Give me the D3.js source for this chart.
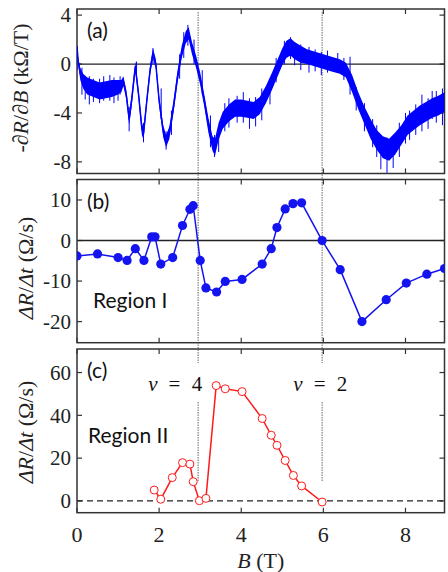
<!DOCTYPE html>
<html><head><meta charset="utf-8">
<script src="https://cdn.jsdelivr.net/npm/d3@7"></script>
<style>body{margin:0;background:#fff}svg{display:block}</style>
</head><body>
<script>
// ---------- data ----------
const xTicks = [0, 2, 4, 6, 8];
const yTicksA = [4, 0, -4, -8];
const yTicksB = [10, 0, -10, -20];
const yTicksC = [0, 20, 40, 60];

// panel (a): -dR/dB, center of noisy trace, noise half-width
const bA = [0.00,0.03,0.08,0.15,0.25,0.40,0.55,0.70,0.85,1.00,1.08,1.13,1.20,1.27,1.33,1.42,1.50,1.58,1.62,1.70,1.78,1.85,1.92,2.00,2.10,2.17,2.25,2.35,2.45,2.55,2.65,2.72,2.80,2.90,3.00,3.10,3.20,3.30,3.36,3.45,3.55,3.70,3.85,4.00,4.15,4.30,4.45,4.60,4.75,4.90,5.00,5.10,5.20,5.30,5.45,5.60,5.80,6.00,6.20,6.40,6.55,6.70,6.85,7.00,7.15,7.30,7.45,7.60,7.75,7.90,8.05,8.20,8.35,8.50,8.65,8.80,8.95];
const aMid = [1.4,0.2,-0.8,-1.4,-1.8,-2.0,-2.2,-2.1,-2.0,-1.9,-1.8,-1.4,-2.5,-4.5,-3.0,-0.2,-2.5,-5.3,-5.7,-3.0,-0.5,0.9,0.0,-3.0,-5.5,-6.3,-5.6,-3.5,-1.0,1.0,2.2,2.5,1.3,0.2,-1.2,-3.0,-5.0,-6.5,-6.8,-5.5,-4.6,-4.0,-3.6,-3.6,-3.7,-3.8,-3.4,-2.5,-1.4,-0.2,0.6,1.2,1.4,1.1,0.8,0.6,0.4,0.2,0.0,-0.2,-0.5,-1.6,-3.0,-4.2,-5.3,-6.2,-6.8,-7.0,-6.5,-5.8,-5.0,-4.6,-4.2,-3.9,-3.6,-3.4,-3.1];
const aNoise = [0.2,0.3,0.5,0.6,0.7,0.7,0.7,0.7,0.7,0.6,0.5,0.4,0.4,0.5,0.5,0.4,0.4,0.5,0.5,0.4,0.4,0.4,0.4,0.4,0.5,0.5,0.5,0.5,0.5,0.5,0.5,0.5,0.5,0.5,0.5,0.5,0.6,0.6,0.7,0.7,0.7,0.7,0.7,0.7,0.7,0.7,0.7,0.7,0.7,0.7,0.7,0.7,0.7,0.7,0.7,0.6,0.6,0.6,0.6,0.6,0.6,0.7,0.7,0.7,0.8,0.8,0.9,0.9,0.9,0.8,0.8,0.8,0.8,0.8,0.8,0.8,0.8];
// noise spikes of trace (a)
const spikeB  = [0.00,0.12,0.20,0.30,0.40,0.55,0.65,0.80,0.90,1.00,1.05,1.27,1.45,1.62,1.85,2.05,2.17,2.30,2.50,2.60,2.70,2.85,3.05,3.25,3.35,3.45,3.60,3.70,3.90,4.05,4.20,4.35,4.50,4.70,4.85,5.05,5.20,5.30,5.45,5.65,5.80,5.95,6.10,6.35,6.50,6.65,6.80,7.00,7.20,7.30,7.40,7.55,7.70,7.85,8.00,8.10,8.25,8.40,8.55,8.65,8.75,8.90];
const spikeLo = [-0.5,-2.5,-2.9,-3.3,-3.1,-3.2,-3.0,-3.0,-3.2,-3.0,-2.5,-5.5,-1.0,-6.4,0.0,-4.5,-7.0,-5.8,-1.2,0.5,1.5,0.0,-2.5,-6.8,-7.6,-7.2,-5.5,-5.2,-4.8,-4.8,-5.3,-5.1,-4.6,-3.3,-1.5,0.0,0.4,-0.1,-0.5,-0.7,-0.6,-0.9,-0.7,-0.5,-1.3,-2.5,-3.8,-5.5,-6.8,-7.6,-8.6,-8.9,-8.5,-7.6,-6.5,-6.2,-5.8,-5.5,-5.3,-4.5,-4.8,-5.0];
const spikeHi = [1.5,-0.3,-1.0,-1.0,-1.2,-1.2,-1.0,-0.9,-1.1,-1.3,-1.0,-3.5,0.2,-4.8,1.3,-2.0,-5.5,-3.8,0.8,2.6,3.2,2.0,-0.5,-4.2,-5.8,-5.0,-3.2,-2.8,-2.6,-2.3,-2.8,-2.7,-2.0,-1.3,0.5,1.9,2.2,1.8,1.6,1.4,1.2,1.0,1.1,0.9,0.5,0.6,-1.9,-3.2,-4.5,-5.0,-5.8,-6.0,-6.0,-4.8,-4.0,-3.8,-3.3,-2.5,-2.8,-2.2,-2.2,-2.0];

// panel (b): Region I
const bI = [0.00,0.50,1.00,1.22,1.42,1.63,1.82,1.90,2.04,2.33,2.57,2.75,2.83,3.00,3.14,3.40,3.61,4.02,4.51,4.73,4.87,5.07,5.26,5.47,5.97,6.41,6.94,7.53,8.02,8.52,8.95];
const rateI = [-3.8,-3.3,-4.2,-4.9,-2.0,-4.9,0.9,0.9,-5.8,-4.2,3.7,7.7,8.6,-4.9,-11.7,-12.7,-10.1,-9.6,-5.8,-2.0,3.2,7.8,9.1,9.3,0.0,-7.2,-20.0,-14.6,-10.5,-8.3,-6.9];

// panel (c): Region II
const bII = [1.88,2.04,2.32,2.57,2.75,2.83,2.98,3.14,3.39,3.61,4.02,4.51,4.73,4.87,5.07,5.27,5.47,5.97];
const rateII = [5.1,0.8,10.9,17.9,17.2,9.0,0.1,1.2,53.9,52.4,51.1,38.5,30.7,26.0,18.9,11.9,7.0,-0.5];

const nuB = [2.95, 5.97];
const nuText = ["4", "2"];

// ---------- layout ----------
const W = 448, H = 572;
const L = 77, R = 444.5;
const svg = d3.select("body").append("svg").attr("width", W).attr("height", H);
const x = d3.scaleLinear().domain([0, 8.95]).range([L, R]);

const panels = [
  {id:"a", top:9,     bot:173.5, dom:[-8.95, 4.5],   ticks:yTicksA, label:"(a)"},
  {id:"b", top:179.5, bot:342.7, dom:[-25.2, 15.05], ticks:yTicksB, label:"(b)"},
  {id:"c", top:349,   bot:512.7, dom:[-5.5, 71],     ticks:yTicksC, label:"(c)"}
];
panels.forEach(p => { p.y = d3.scaleLinear().domain(p.dom).range([p.bot, p.top]); });

const serif = "'Liberation Serif','Times New Roman',serif";
const sans = "Lato,'Open Sans',sans-serif";
const frameCol = "#333";

// clip paths
const defs = svg.append("defs");
panels.forEach(p => {
  defs.append("clipPath").attr("id", "clip" + p.id).append("rect")
    .attr("x", L).attr("y", p.top).attr("width", R - L).attr("height", p.bot - p.top);
});

// vertical nu lines (through a and b)
const vg = svg.append("g");
nuB.forEach(b => {
  vg.append("line").attr("x1", x(b)).attr("x2", x(b)).attr("y1", 12).attr("y2", 363)
    .attr("stroke", "#444").attr("stroke-width", 0.8).attr("stroke-dasharray", "1.5,1");
});

panels.forEach(p => {
  const g = svg.append("g");
  const tl = 5;
  xTicks.forEach(t => {
    g.append("line").attr("x1", x(t)).attr("x2", x(t)).attr("y1", p.bot).attr("y2", p.bot - tl).attr("stroke", frameCol).attr("stroke-width", 1.2);
    g.append("line").attr("x1", x(t)).attr("x2", x(t)).attr("y1", p.top).attr("y2", p.top + tl).attr("stroke", frameCol).attr("stroke-width", 1.2);
  });
  p.ticks.forEach(t => {
    g.append("line").attr("x1", L).attr("x2", L + tl).attr("y1", p.y(t)).attr("y2", p.y(t)).attr("stroke", frameCol).attr("stroke-width", 1.2);
    g.append("line").attr("x1", R).attr("x2", R - tl).attr("y1", p.y(t)).attr("y2", p.y(t)).attr("stroke", frameCol).attr("stroke-width", 1.2);
    g.append("text").attr("x", 71).attr("y", p.y(t)).attr("dy", "0.35em")
      .attr("text-anchor", "end").attr("font-family", serif).attr("font-size", 21).attr("fill", "#222")
      .text(String(t));
  });
  const zl = g.append("line").attr("x1", L).attr("x2", R).attr("y1", p.y(0)).attr("y2", p.y(0))
    .attr("stroke", "#222").attr("stroke-width", 1.3);
  if (p.id === "c") zl.attr("stroke-dasharray", "6,4");
  g.append("rect").attr("x", L).attr("y", p.top).attr("width", R - L).attr("height", p.bot - p.top)
    .attr("fill", "none").attr("stroke", frameCol).attr("stroke-width", 1.5);
  g.append("text").attr("x", 87).attr("y", p.top + 29).attr("font-family", sans).attr("font-size", 21).attr("fill", "#111").text(p.label);
});

// ---------- panel a ----------
const pa = panels[0];
const ga = svg.append("g").attr("clip-path", "url(#clipa)");
const aData = bA.map((b, i) => ({b, m: aMid[i], n: aNoise[i]}));
ga.append("path").datum(aData)
  .attr("d", d3.area().x(d => x(d.b)).y0(d => pa.y(d.m - d.n)).y1(d => pa.y(d.m + d.n)))
  .attr("fill", "#0000ff");
ga.append("path").datum(aData)
  .attr("d", d3.line().x(d => x(d.b)).y(d => pa.y(d.m)))
  .attr("fill", "none").attr("stroke", "#0000ff").attr("stroke-width", 1.5);
spikeB.forEach((b, i) => {
  ga.append("line").attr("x1", x(b)).attr("x2", x(b)).attr("y1", pa.y(spikeLo[i])).attr("y2", pa.y(spikeHi[i]))
    .attr("stroke", "#0000ff").attr("stroke-width", 1);
});

// ---------- panel b ----------
const pb = panels[1];
const gb = svg.append("g").attr("clip-path", "url(#clipb)");
const bData = bI.map((b, i) => ({b, v: rateI[i]}));
gb.append("path").datum(bData)
  .attr("d", d3.line().x(d => x(d.b)).y(d => pb.y(d.v)))
  .attr("fill", "none").attr("stroke", "#1414f0").attr("stroke-width", 1.5);
gb.selectAll("circle").data(bData).enter().append("circle")
  .attr("cx", d => x(d.b)).attr("cy", d => pb.y(d.v)).attr("r", 4.6).attr("fill", "#1414f0");
svg.append("text").attr("x", 93).attr("y", 308).attr("font-family", sans).attr("font-size", 21).attr("fill", "#111").text("Region I");

// ---------- panel c ----------
const pc = panels[2];
const gc = svg.append("g").attr("clip-path", "url(#clipc)");
const cData = bII.map((b, i) => ({b, v: rateII[i]}));
gc.append("path").datum(cData)
  .attr("d", d3.line().x(d => x(d.b)).y(d => pc.y(d.v)))
  .attr("fill", "none").attr("stroke", "#ff1a1a").attr("stroke-width", 1.5);
gc.selectAll("circle").data(cData).enter().append("circle")
  .attr("cx", d => x(d.b)).attr("cy", d => pc.y(d.v)).attr("r", 4).attr("fill", "#fff")
  .attr("stroke", "#ff1a1a").attr("stroke-width", 1);
svg.append("text").attr("x", 88).attr("y", 443).attr("font-family", sans).attr("font-size", 21).attr("fill", "#111").text("Region II");

// short nu lines in (c) and labels
const nuOffset = [-50, -29];
nuB.forEach((b, i) => {
  svg.append("line").attr("x1", x(b)).attr("x2", x(b)).attr("y1", 402).attr("y2", 481)
    .attr("stroke", "#444").attr("stroke-width", 0.8).attr("stroke-dasharray", "1.5,1");
  const t = svg.append("text").attr("x", x(b) + nuOffset[i]).attr("y", 391)
    .attr("font-family", serif).attr("font-size", 21).attr("fill", "#111")
    .attr("textLength", 54).attr("lengthAdjust", "spacing");
  t.append("tspan").attr("font-style", "italic").text("\u03bd");
  t.append("tspan").text(" = " + nuText[i]);
});

// x tick labels
xTicks.forEach(t => {
  svg.append("text").attr("x", x(t)).attr("y", 542).attr("text-anchor", "middle")
    .attr("font-family", serif).attr("font-size", 22).attr("fill", "#222").text(t);
});
const xl = svg.append("text").attr("x", (L + R) / 2).attr("y", 568).attr("text-anchor", "middle")
  .attr("font-family", serif).attr("font-size", 22).attr("fill", "#222");
xl.append("tspan").attr("font-style", "italic").text("B");
xl.append("tspan").text(" (T)");

// y axis labels
function yLabel(cx, cy, parts) {
  const t = svg.append("text").attr("transform", `translate(${cx},${cy}) rotate(-90)`)
    .attr("text-anchor", "middle").attr("font-family", serif).attr("font-size", 22).attr("fill", "#222");
  parts.forEach(([s, it]) => t.append("tspan").attr("font-style", it ? "italic" : "normal").text(s));
}
yLabel(28, 88, [["-\u2202", false], ["R", true], ["/\u2202", false], ["B", true], [" (k\u03a9/T)", false]]);
yLabel(33, 268, [["\u0394", true], ["R", true], ["/", false], ["\u0394", true], ["t", true], [" (\u03a9/s)", false]]);
yLabel(33, 432, [["\u0394", true], ["R", true], ["/", false], ["\u0394", true], ["t", true], [" (\u03a9/s)", false]]);
</script>
</body></html>
